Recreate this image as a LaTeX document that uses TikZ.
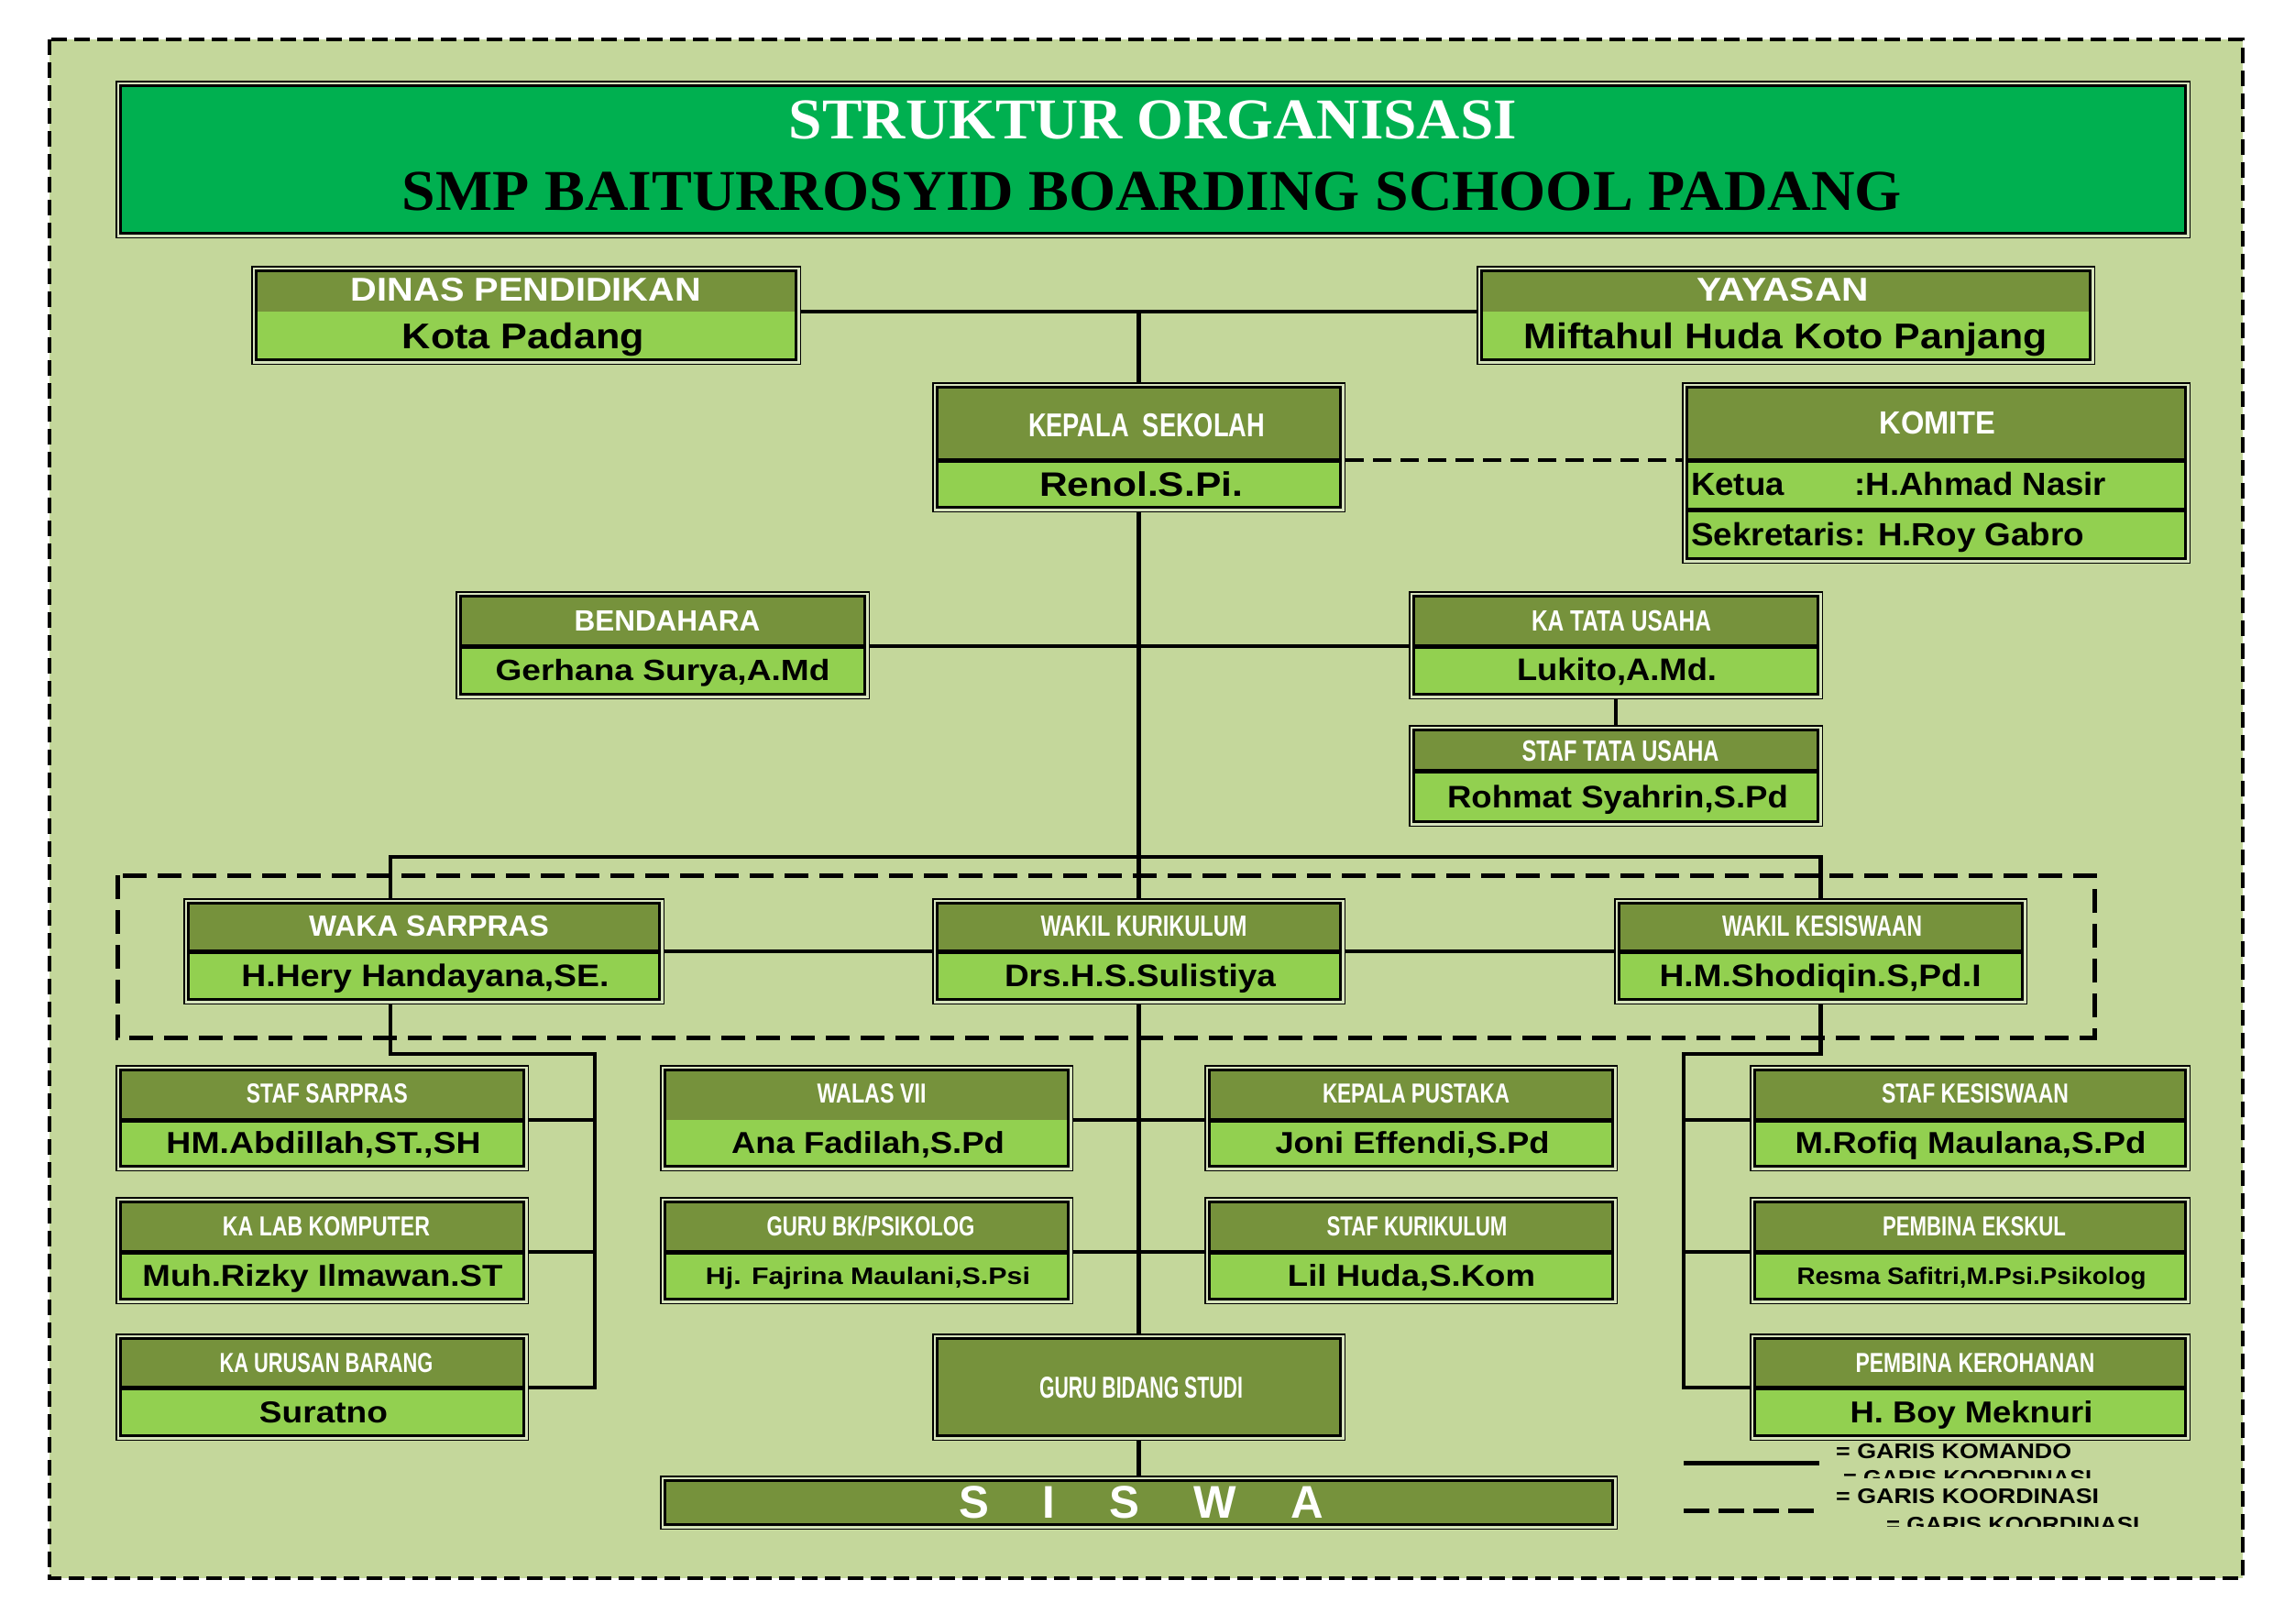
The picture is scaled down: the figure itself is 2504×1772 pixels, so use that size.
\documentclass[tikz,border=0pt]{standalone}
\usepackage{fontspec}
\usepackage{graphicx}
\usetikzlibrary{fit}
\newfontfamily\lsans{Liberation Sans}
\newfontfamily\lserif{Liberation Serif}
\definecolor{bgc}{HTML}{C4D79B}
\definecolor{hdrc}{HTML}{76923C}
\definecolor{bodc}{HTML}{92D050}
\definecolor{titc}{HTML}{00B050}
\definecolor{gapc}{HTML}{D7E4BD}
\newcommand\fw[3]{\resizebox{#1pt}{\height}{\lsans\bfseries\fontsize{#2pt}{#2pt}\selectfont #3}}
\newcommand\fws[3]{\resizebox{#1pt}{\height}{\lserif\bfseries\fontsize{#2pt}{#2pt}\selectfont #3}}
\tikzset{
  cmd/.style={line width=4.5pt, black},
  koord/.style={line width=4.5pt, black, dash pattern=on 20pt off 10pt},
  sepl/.style={line width=5pt, black},
  nosep/.style={draw=none},
  lbl/.style={inner sep=0pt, anchor=base},
  hd/.style={lbl, text=white},
  bd/.style={lbl, text=black},
}
% #1 sep style, #2 name, #3 x1, #4 y1, #5 x2, #6 y2, #7 split
\newcommand\obox[7][sepl]{%
  \fill[gapc] (#3,#4) rectangle (#5,#6);
  \fill[hdrc] (#3+4,#4+4) rectangle (#5-4,#7);
  \fill[bodc] (#3+4,#7) rectangle (#5-4,#6-4);
  \draw[#1] (#3+4,#7) -- (#5-4,#7);
  \draw[line width=1.5pt] (#3+.75,#4+.75) rectangle (#5-.75,#6-.75);
  \draw[line width=3pt] (#3+5.5,#4+5.5) rectangle (#5-5.5,#6-5.5);
  \node[inner sep=0pt, fit={(#3,#4)(#5,#6)}] (#2) {};
  \coordinate (#2-sw) at (#3,#7);
  \coordinate (#2-se) at (#5,#7);
}
% #1 style, #2 name, #3 x, #4 baseline, #5 width, #6 size, #7 text
\newcommand\otext[7]{\node[#1] (#2) at (#3,#4) {\fw{#5}{#6}{#7}};}
\begin{document}
\begin{tikzpicture}[x=1pt,y=-1pt]
\useasboundingbox (0,0) rectangle (2504,1772);
\fill[white] (0,0) rectangle (2504,1772);
\fill[bgc] (54,43) rectangle (2447,1722);
\draw[line width=4pt, dash pattern=on 17pt off 8pt] (54,43) rectangle (2447,1722);

% title
\fill[gapc] (126,88) rectangle (2390,260);
\fill[titc] (130,92) rectangle (2386,256);
\draw[line width=1.5pt] (126.75,88.75) rectangle (2389.25,259.25);
\draw[line width=3pt] (131.5,93.5) rectangle (2384.5,254.5);
\node[inner sep=0pt, fit={(126,88)(2390,260)}] (title) {};
\node[hd] (title-1) at (1258,151) {\fws{794}{63}{STRUKTUR ORGANISASI}};
\node[bd] (title-2) at (1257,229) {\fws{1636}{63}{SMP BAITURROSYID BOARDING SCHOOL PADANG}};

% dashed coordination box
\draw[line width=5pt, dash pattern=on 26pt off 12pt] (128,955) rectangle (2285,1132);

% boxes
\obox[nosep]{dinas}{274}{290}{874}{398}{340}
\obox[nosep]{yayasan}{1611}{290}{2286}{398}{340}
\obox{kepala}{1017}{417}{1468}{559}{502}
\obox{komite}{1835}{417}{2390}{615}{502}
\draw[sepl] (1839,556) -- (2386,556);
\obox{bend}{497}{645}{949}{763}{705}
\obox{katu}{1537}{645}{1989}{763}{705}
\obox{stu}{1537}{791}{1989}{902}{841}
\obox{wsar}{200}{980}{725}{1096}{1038}
\obox{wkur}{1017}{980}{1468}{1096}{1038}
\obox{wkes}{1761}{980}{2212}{1096}{1038}
\obox{ssar}{126}{1162}{577}{1278}{1222}
\obox[nosep]{walas}{720}{1162}{1171}{1278}{1222}
\obox{kpus}{1314}{1162}{1765}{1278}{1222}
\obox{skes}{1909}{1162}{2390}{1278}{1222}
\obox{kalab}{126}{1306}{577}{1423}{1366}
\obox{gbk}{720}{1306}{1171}{1423}{1366}
\obox{skur}{1314}{1306}{1765}{1423}{1366}
\obox{peks}{1909}{1306}{2390}{1423}{1366}
\obox{kaub}{126}{1455}{577}{1572}{1514}
\obox[nosep]{gbs}{1017}{1455}{1468}{1572}{1568}
\obox{pker}{1909}{1455}{2390}{1572}{1514}
\obox[nosep]{siswa}{720}{1610}{1765}{1669}{1665}

% connectors
\draw[cmd] (dinas-se) -- (yayasan-sw);
\draw[cmd] (kepala.north |- dinas-se) -- (kepala.north);
\draw[koord] (kepala-se) -- (komite-sw);
\draw[cmd] (kepala.south) -- (wkur.north);
\draw[cmd] (bend-se) -- (katu-sw);
\draw[cmd] (katu.south) -- (stu.north);
\coordinate (busL) at (426,935);
\draw[cmd] (busL |- wsar.north) -- (busL) -- (busL -| wkes.north) -- (wkes.north);
\draw[cmd] (wsar-se) -- (wkur-sw);
\draw[cmd] (wkur-se) -- (wkes-sw);
\draw[cmd] (wkur.south) -- (gbs.north);
\draw[cmd] (gbs.south) -- (siswa.north);
\coordinate (vL) at (649,1150);
\draw[cmd] (busL |- wsar.south) |- (vL) -- (vL |- kaub-se) -- (kaub-se);
\draw[cmd] (ssar-se) -- (ssar-se -| vL);
\draw[cmd] (kalab-se) -- (kalab-se -| vL);
\coordinate (vR) at (1837,1150);
\draw[cmd] (wkes.south) |- (vR) -- (vR |- pker-sw) -- (pker-sw);
\draw[cmd] (vR |- skes-sw) -- (skes-sw);
\draw[cmd] (vR |- peks-sw) -- (peks-sw);
\draw[cmd] (walas-se) -- (kpus-sw);
\draw[cmd] (gbk-se) -- (skur-sw);

% texts
\otext{hd}{dinas-h}{574}{328}{382}{36}{DINAS PENDIDIKAN}
\otext{bd}{dinas-b}{571}{380}{264}{39}{Kota Padang}
\otext{hd}{yayasan-h}{1945}{328}{188}{36}{YAYASAN}
\otext{bd}{yayasan-b}{1948}{380}{571}{39}{Miftahul Huda Koto Panjang}
\otext{hd}{kepala-h}{1251}{476}{258}{36}{KEPALA\ \ SEKOLAH}
\otext{bd}{kepala-b}{1245}{541}{222}{37}{Renol.S.Pi.}
\otext{hd}{komite-h}{2114}{473}{127}{35}{KOMITE}
\otext{bd, anchor=base west}{komite-k}{1845}{540}{453}{35}{Ketua\hspace{2.1em}:H.Ahmad Nasir}
\otext{bd, anchor=base west}{komite-s}{1845}{595}{429}{35}{Sekretaris: H.Roy Gabro}
\otext{hd}{bend-h}{728}{688}{203}{32}{BENDAHARA}
\otext{bd}{bend-b}{723}{742}{365}{32}{Gerhana Surya,A.Md}
\otext{hd}{katu-h}{1769}{688}{196}{32}{KA TATA USAHA}
\otext{bd}{katu-b}{1764}{742}{218}{34}{Lukito,A.Md.}
\otext{hd}{stu-h}{1768}{830}{215}{32}{STAF TATA USAHA}
\otext{bd}{stu-b}{1765}{881}{372}{34}{Rohmat Syahrin,S.Pd}
\otext{hd}{wsar-h}{468}{1021}{262}{32}{WAKA SARPRAS}
\otext{bd}{wsar-b}{464}{1076}{401}{34}{H.Hery Handayana,SE.}
\otext{hd}{wkur-h}{1248}{1021}{225}{32}{WAKIL KURIKULUM}
\otext{bd}{wkur-b}{1244}{1076}{296}{34}{Drs.H.S.Sulistiya}
\otext{hd}{wkes-h}{1988}{1021}{218}{32}{WAKIL KESISWAAN}
\otext{bd}{wkes-b}{1986}{1076}{351}{34}{H.M.Shodiqin.S,Pd.I}
\otext{hd}{ssar-h}{357}{1203}{176}{30}{STAF SARPRAS}
\otext{bd}{ssar-b}{353}{1258}{343}{33}{HM.Abdillah,ST.,SH}
\otext{hd}{walas-h}{951}{1203}{119}{30}{WALAS VII}
\otext{bd}{walas-b}{947}{1258}{298}{33}{Ana Fadilah,S.Pd}
\otext{hd}{kpus-h}{1545}{1203}{204}{30}{KEPALA PUSTAKA}
\otext{bd}{kpus-b}{1541}{1258}{299}{33}{Joni Effendi,S.Pd}
\otext{hd}{skes-h}{2155}{1203}{204}{30}{STAF KESISWAAN}
\otext{bd}{skes-b}{2150}{1258}{383}{33}{M.Rofiq Maulana,S.Pd}
\otext{hd}{kalab-h}{356}{1348}{226}{30}{KA LAB KOMPUTER}
\otext{bd}{kalab-b}{352}{1403}{393}{33}{Muh.Rizky Ilmawan.ST}
\otext{hd}{gbk-h}{950}{1348}{227}{30}{GURU BK/PSIKOLOG}
\otext{bd}{gbk-b}{947}{1401}{354}{26}{Hj. Fajrina Maulani,S.Psi}
\otext{hd}{skur-h}{1546}{1348}{197}{30}{STAF KURIKULUM}
\otext{bd}{skur-b}{1540}{1403}{270}{33}{Lil Huda,S.Kom}
\otext{hd}{peks-h}{2154}{1348}{200}{30}{PEMBINA EKSKUL}
\otext{bd}{peks-b}{2151}{1401}{381}{26}{Resma Safitri,M.Psi.Psikolog}
\otext{hd}{kaub-h}{356}{1497}{233}{30}{KA URUSAN BARANG}
\otext{bd}{kaub-b}{353}{1552}{140}{33}{Suratno}
\otext{hd}{gbs-h}{1245}{1525}{222}{33}{GURU BIDANG STUDI}
\otext{hd}{pker-h}{2155}{1497}{261}{30}{PEMBINA KEROHANAN}
\otext{bd}{pker-b}{2151}{1552}{265}{33}{H. Boy Meknuri}
\otext{hd}{siswa-h}{1245}{1656}{398}{50}{S\hspace{1.2em}I\hspace{1.2em}S\hspace{1.2em}W\hspace{1.2em}A}

% legend
\coordinate (lgA1) at (1837,1596);
\coordinate (lgA2) at (1985,1596);
\coordinate (lgB1) at (1837,1648);
\coordinate (lgB2) at (1979,1648);
\draw[line width=5pt] (lgA1) -- (lgA2);
\draw[line width=5pt, dash pattern=on 28pt off 10pt] (lgB1) -- (lgB2);
\otext{bd, anchor=base west}{lg-1}{2003}{1591}{257}{23}{= GARIS KOMANDO}
\otext{bd, anchor=base west}{lg-2}{2003}{1640}{287}{23}{= GARIS KOORDINASI}
\begin{scope}
  \clip (1995,1599) rectangle (2350,1612);
  \otext{bd, anchor=base west}{lg-3}{2011}{1620}{271}{23}{= GARIS KOORDINASI}
\end{scope}
\begin{scope}
  \clip (1995,1650) rectangle (2350,1665);
  \otext{bd, anchor=base west}{lg-4}{2058}{1671}{276}{23}{= GARIS KOORDINASI}
\end{scope}
\end{tikzpicture}
\end{document}
